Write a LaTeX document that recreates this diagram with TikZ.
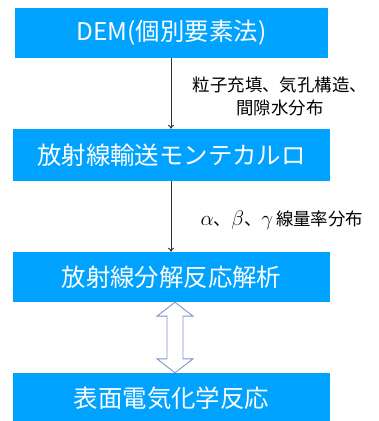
\RequirePackage{fix-cm}
\documentclass[tikz,border=0pt]{standalone}
\usepackage{fontspec}
\setmainfont{Noto Sans CJK JP}
\usetikzlibrary{calc,arrows.meta}
\definecolor{boxblue}{RGB}{0,162,255}
\definecolor{arrowgray}{RGB}{127,149,197}
\tikzset{
  blockbox/.style={fill=boxblue, draw=none, text=white, inner sep=0pt,
    font=\fontsize{24.5}{29}\selectfont},
  flowarrow/.style={draw=black!80, line width=0.9bp, -{To[length=4bp,width=6bp]}},
  flowlabel/.style={text=black, align=center, font=\fontsize{17.5}{23}\selectfont}
}
\begin{document}
\begin{tikzpicture}[x=1bp,y=1bp]
\useasboundingbox (0,0) rectangle (379,421);
\node[blockbox, minimum width=313bp, minimum height=50bp] (b1) at (171.5,388) {DEM(個別要素法)};
\node[blockbox, minimum width=317bp, minimum height=52bp] (b2) at (171.5,266) {放射線輸送モンテカルロ};
\node[blockbox, minimum width=317bp, minimum height=50bp] (b3) at (171.5,144) {放射線分解反応解析};
\node[blockbox, minimum width=317bp, minimum height=50bp] (b4) at (171.5,23) {\raisebox{2bp}{表面電気化学反応}};
\coordinate (a1s) at (171,363);
\draw[flowarrow] (b1.south -| a1s) -- (b2.north -| a1s);
\draw[flowarrow] (b2.south -| a1s) -- (b3.north -| a1s);
\node[flowlabel] (l1) at (280,325) {粒子充填、気孔構造、\\間隙水分布};
\node[flowlabel] (l2) at (282,201) {{\fontsize{21}{23}\selectfont$\alpha$}、{\fontsize{21}{23}\selectfont$\beta$}、{\fontsize{21}{23}\selectfont$\gamma$}\,線量率分布};
\coordinate (dc) at (175,0);
\draw[arrowgray, line width=0.9bp, fill=white, line join=miter]
  (b3.south -| dc)
  -- ++(18,-14) -- ++(-10,0) -- ($(b4.north -| dc)+(8,14)$) -- ++(10,0)
  -- (b4.north -| dc)
  -- ++(-18,14) -- ++(10,0) -- ($(b3.south -| dc)+(-8,-14)$) -- ++(-10,0)
  -- cycle;
\end{tikzpicture}
\end{document}
